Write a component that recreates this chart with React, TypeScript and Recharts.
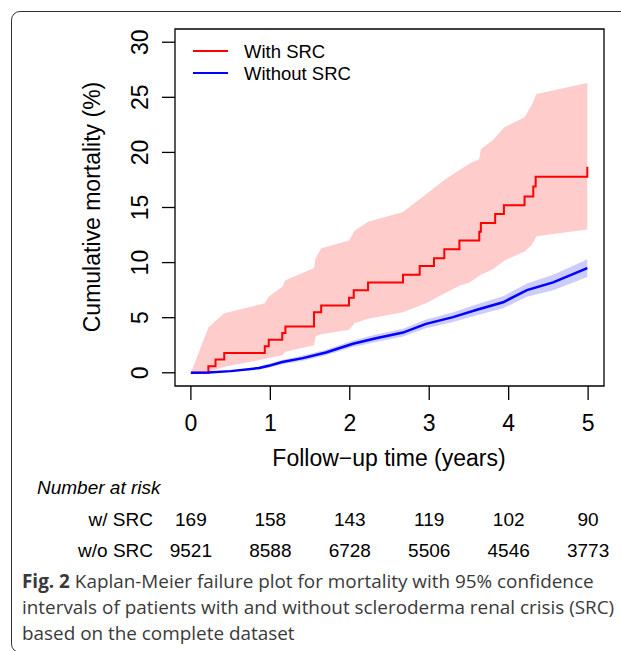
import { Area, ComposedChart, Line, ReferenceArea, XAxis, YAxis } from "recharts";

// follow-up time ticks (years) and numbers at risk under each tick
const timeTicks = [0, 1, 2, 3, 4, 5];
const mortalityTicks = [0, 5, 10, 15, 20, 25, 30];
const atRiskWithSrc = [169, 158, 143, 119, 102, 90];
const atRiskWithoutSrc = [9521, 8588, 6728, 5506, 4546, 3773];

// With SRC: Kaplan-Meier failure steps (%)
const srcStepTimes = [0, 0.22, 0.31, 0.42, 0.93, 0.98, 1.15, 1.19, 1.55, 1.64, 1.99, 2.05, 2.23, 2.67, 2.88, 3.06, 3.19, 3.38, 3.63, 3.65, 3.83, 3.94, 4.2, 4.31, 4.34, 4.99];
const srcStepValues = [0, 0.6, 1.2, 1.8, 2.4, 3.0, 3.6, 4.2, 5.5, 6.1, 6.8, 7.5, 8.2, 8.9, 9.7, 10.4, 11.2, 12.0, 12.8, 13.6, 14.4, 15.2, 16.0, 16.9, 17.8, 18.7];

// With SRC: 95% CI band
const srcBandTimes = [0, 0.22, 0.42, 0.93, 0.98, 1.15, 1.19, 1.55, 1.57, 1.64, 1.99, 2.06, 2.23, 2.67, 2.96, 3.19, 3.38, 3.51, 3.63, 3.65, 3.8, 3.95, 4.2, 4.29, 4.35, 4.99];
const srcBandUpper = [0, 4.1, 5.4, 6.3, 6.9, 7.8, 8.4, 9.5, 10.4, 11.3, 12.0, 12.9, 13.7, 14.6, 16.2, 17.5, 18.4, 19.0, 19.4, 20.3, 21.1, 22.3, 23.2, 24.3, 25.3, 26.3];
const srcBandLower = [0, 0.05, 0.55, 1.25, 1.35, 1.6, 1.9, 2.5, 3.3, 3.5, 3.9, 4.5, 4.9, 5.5, 6.3, 7.2, 7.9, 8.2, 8.8, 8.9, 9.4, 10.2, 11.0, 11.6, 12.4, 13.0];

// Without SRC: estimate and 95% CI band
const noSrcTimes = [0, 0.22, 0.5, 0.86, 0.98, 1.15, 1.41, 1.7, 2.04, 2.33, 2.67, 2.96, 3.3, 3.59, 3.93, 4.23, 4.56, 4.99];
const noSrcValues = [0, 0.03, 0.15, 0.43, 0.63, 0.97, 1.33, 1.84, 2.63, 3.14, 3.65, 4.44, 5.05, 5.7, 6.4, 7.5, 8.2, 9.5];
const noSrcLower = [0, 0, 0.1, 0.3, 0.45, 0.77, 1.1, 1.58, 2.33, 2.8, 3.3, 4.05, 4.6, 5.2, 5.85, 6.9, 7.5, 8.7];
const noSrcUpper = [0, 0.06, 0.2, 0.56, 0.81, 1.17, 1.56, 2.1, 2.93, 3.48, 4.0, 4.83, 5.5, 6.2, 6.95, 8.1, 8.9, 10.3];

const srcLine = srcStepTimes.map((t, i) => ({ t, value: srcStepValues[i] }));
const srcBand = srcBandTimes.map((t, i) => ({ t, ci: [srcBandLower[i], srcBandUpper[i]] }));
const noSrcLine = noSrcTimes.map((t, i) => ({ t, value: noSrcValues[i] }));
const noSrcBand = noSrcTimes.map((t, i) => ({ t, ci: [noSrcLower[i], noSrcUpper[i]] }));

const PLOT_FONT = "'Liberation Sans', Arial, Helvetica, sans-serif";

function TimeTick({ x, payload }: { x: number; payload: { value: number } }) {
  const i = timeTicks.indexOf(payload.value);
  return (
    <g fontFamily={PLOT_FONT} fill="#000" textAnchor="middle">
      <text x={x} y={431} fontSize={23}>{payload.value}</text>
      <text x={x} y={526} fontSize={19}>{atRiskWithSrc[i]}</text>
      <text x={x} y={557} fontSize={19}>{atRiskWithoutSrc[i]}</text>
    </g>
  );
}

function MortalityTick({ y, payload }: { y: number; payload: { value: number } }) {
  return (
    <text
      x={148}
      y={y}
      transform={`rotate(-90, 148, ${y})`}
      textAnchor="middle"
      fontFamily={PLOT_FONT}
      fontSize={23}
      fill="#000"
    >
      {payload.value}
    </text>
  );
}

export default function App() {
  return (
    <div style={{ position: "absolute", left: 0, top: 0, width: 621, height: 651, overflow: "hidden", background: "#fff" }}>
      <div
        style={{
          position: "absolute",
          left: 11,
          top: 11,
          width: 700,
          height: 640,
          border: "1.5px solid #333",
          borderRadius: 9,
        }}
      />
      <ComposedChart width={621} height={651} margin={{ top: 29, right: 17, bottom: 235, left: 115 }}>
        <XAxis
          type="number"
          dataKey="t"
          domain={[-0.2, 5.2]}
          ticks={timeTicks}
          interval={0}
          allowDataOverflow
          axisLine={false}
          tickLine={{ stroke: "#000", strokeWidth: 1.3 }}
          tickSize={14}
          height={30}
          tick={TimeTick}
        />
        <YAxis
          type="number"
          domain={[-1.2, 31.2]}
          ticks={mortalityTicks}
          interval={0}
          allowDataOverflow
          axisLine={false}
          tickLine={{ stroke: "#000", strokeWidth: 1.3 }}
          tickSize={13}
          width={60}
          tick={MortalityTick}
        />
        <Area
          data={srcBand}
          dataKey="ci"
          type="linear"
          stroke="none"
          fill="#ff0000"
          fillOpacity={0.2}
          isAnimationActive={false}
        />
        <Area
          data={noSrcBand}
          dataKey="ci"
          type="linear"
          stroke="none"
          fill="#0000ff"
          fillOpacity={0.2}
          isAnimationActive={false}
        />
        <Line
          data={srcLine}
          dataKey="value"
          type="stepAfter"
          stroke="#ff0000"
          strokeWidth={2}
          dot={false}
          isAnimationActive={false}
        />
        <Line
          data={noSrcLine}
          dataKey="value"
          type="linear"
          stroke="#0000ff"
          strokeWidth={2.5}
          dot={false}
          isAnimationActive={false}
        />
        <ReferenceArea x1={-0.2} x2={5.2} y1={-1.2} y2={31.2} fill="none" stroke="#000" strokeWidth={1.3} />
      </ComposedChart>

      <svg width={621} height={651} style={{ position: "absolute", left: 0, top: 0, pointerEvents: "none" }}>
        <g fontFamily={PLOT_FONT} fill="#000">
          <line x1={193} y1={51} x2={228} y2={51} stroke="#ff0000" strokeWidth={2} />
          <text x={244} y={58} fontSize={18.5}>With SRC</text>
          <line x1={193} y1={73} x2={228} y2={73} stroke="#0000ff" strokeWidth={2} />
          <text x={244} y={80} fontSize={18.5}>Without SRC</text>

          <text x={100} y={207} transform="rotate(-90, 100, 207)" textAnchor="middle" fontSize={23}>
            Cumulative mortality (%)
          </text>
          <text x={389} y={466} textAnchor="middle" fontSize={23}>Follow−up time (years)</text>

          <text x={37} y={494} fontSize={19} fontStyle="italic">Number at risk</text>
          <text x={153} y={526} fontSize={19} textAnchor="end">w/ SRC</text>
          <text x={153} y={557} fontSize={19} textAnchor="end">w/o SRC</text>
        </g>
      </svg>

      <div
        style={{
          position: "absolute",
          left: 22,
          top: 568,
          fontFamily: "'Open Sans', sans-serif",
          fontSize: 18.9,
          lineHeight: "26px",
          color: "#3a3a3a",
          whiteSpace: "nowrap",
        }}
      >
        <div>
          <b>Fig. 2</b> Kaplan-Meier failure plot for mortality with 95% confidence
        </div>
        <div>intervals of patients with and without scleroderma renal crisis (SRC)</div>
        <div>based on the complete dataset</div>
      </div>
    </div>
  );
}
